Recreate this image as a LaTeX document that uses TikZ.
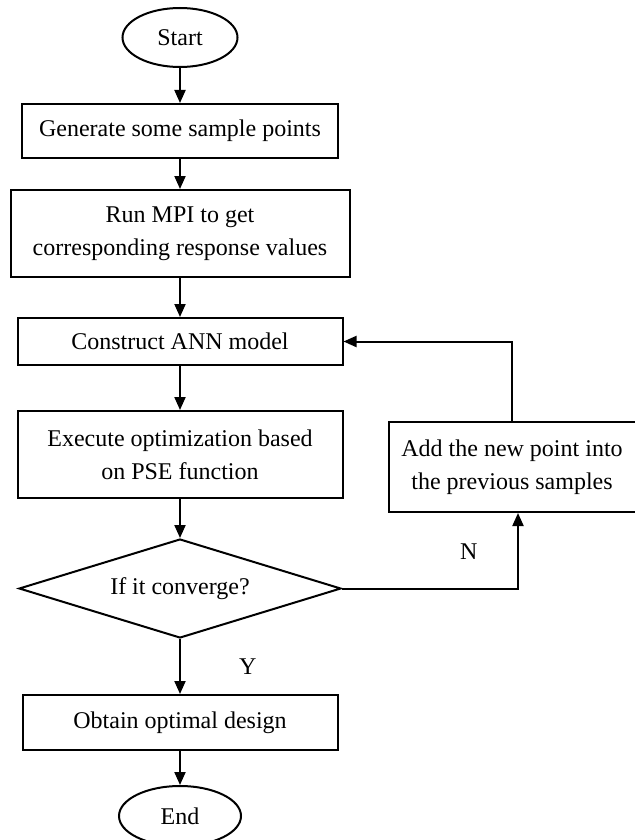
\documentclass[tikz,border=0pt]{standalone}
\usepackage{fontspec}
\setmainfont{Liberation Serif}
\usetikzlibrary{arrows.meta,positioning,shapes.geometric}
\tikzset{
terminal/.style={draw,ellipse,line width=1pt,minimum width=57.5pt,minimum height=29.5pt,inner sep=0pt},
process/.style={draw,line width=1pt,align=center,inner sep=0pt},
decision/.style={draw,diamond,aspect=3.25,line width=1pt,minimum width=161pt,minimum height=49.5pt,inner sep=0pt},
flow/.style={-{Triangle[length=6.5pt,width=5.5pt]},line width=1pt},
branch/.style={inner sep=0pt}
}

\begin{document}
\begin{tikzpicture}[font=\fontsize{12}{16.5}\selectfont]
\useasboundingbox (0,0) rectangle (317.5pt,-420pt);
\node[terminal] (start) at (90pt,-18.75pt) {Start};
\node[process,minimum width=158pt,minimum height=27pt,below=17.5pt of start] (sample) {Generate some sample points};
\node[process,minimum width=169.5pt,minimum height=43.5pt,below=15pt of sample] (mpi) {Run MPI to get\\corresponding response values};
\node[process,minimum width=162.5pt,minimum height=23.5pt,below=19.5pt of mpi] (ann) {Construct ANN model};
\node[process,minimum width=162.5pt,minimum height=43.5pt,below=22pt of ann] (exec) {Execute optimization based\\on PSE function};
\node[decision,below=19.5pt of exec] (conv) {If it converge?};
\node[process,minimum width=157.5pt,minimum height=27.5pt,below=27.5pt of conv] (optimum) {Obtain optimal design};
\node[terminal,minimum width=61pt,minimum height=30pt,below=17pt of optimum] (finish) {End};
\node[process,minimum width=123.5pt,minimum height=45pt,right=22pt of exec,yshift=-6.25pt] (addpt) {Add the new point into\\the previous samples};
\draw[flow] (start) -- (sample);
\draw[flow] (sample) -- (mpi);
\draw[flow] (mpi) -- (ann);
\draw[flow] (ann) -- (exec);
\draw[flow] (exec) -- (conv);
\draw[flow] (conv) -- node[branch,right=29pt]{Y} (optimum);
\draw[flow] (optimum) -- (finish);
\draw[flow] (conv.east) -| node[branch,pos=.36,above=14pt]{N} ([xshift=3pt]addpt.south);
\draw[flow] (addpt.north) |- (ann.east);
\end{tikzpicture}
\end{document}
